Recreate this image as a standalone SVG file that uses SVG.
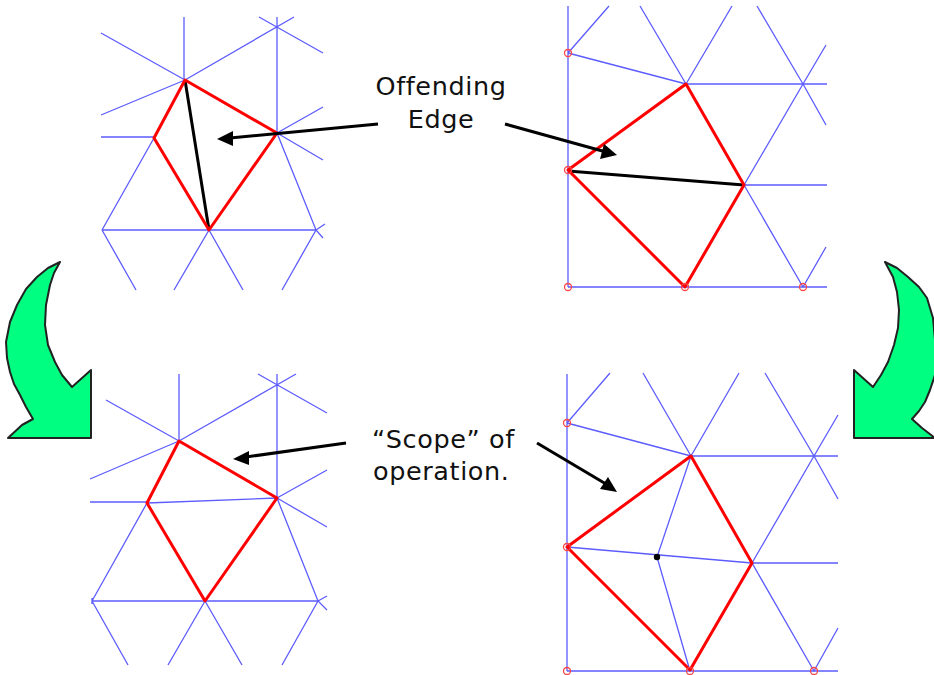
<svg xmlns="http://www.w3.org/2000/svg" width="934" height="675" viewBox="0 0 934 675">
<defs>
<style>
.m{fill:none;stroke:#5c5cff;stroke-width:1.3}
.s{fill:none;stroke:#ff0000;stroke-width:3;stroke-linejoin:round}
.k{fill:none;stroke:#000;stroke-width:3}
.c{fill:none;stroke:#ff4444;stroke-width:1.3}
.a{fill:none;stroke:#000;stroke-width:3}
.h{fill:#000;stroke:none}
.g{fill:#00ff80;stroke:#222;stroke-width:2;stroke-linejoin:round}
text{font-family:"DejaVu Sans",Verdana,sans-serif;font-size:25.5px;fill:#111;letter-spacing:.6px}
</style>
</defs>
<rect width="934" height="675" fill="#fff"/>
<g id="mesh-top-left">
<path class="m" d="M184 17V80M101 33L185 80M101 115L185 80M185 80L294 17M259 17L323 53M277 17V133M277 133L323 107M277 133L323 160M277 133L316 230L323 238M101 137H154M154 138L102 230M102 230H316M316 230L325 224M316 230L282 290M209 230L174 290M209 230L243 290M102 230L136 290"/>
<path class="k" d="M185 80L209 230"/>
<path class="s" d="M185 80L277 133L209 230L154 138Z"/>
</g>
<g id="mesh-top-right">
<path class="m" d="M568 6V287M568 53L609 6M568 53L686 84M686 84L640 6M686 84L732 6M686 84H827M757 6L803 84L826 125M803 84L744 185M803 84L826 45M744 185H827M744 185L803 287L826 247M568 287H827"/>
<path class="k" d="M568 171L744 185"/>
<path class="s" d="M686 84L744 185L685 287L568 170Z"/>
<circle class="c" cx="568" cy="53" r="3.5"/><circle class="c" cx="568" cy="170" r="3.5"/><circle class="c" cx="568" cy="287" r="3.5"/><circle class="c" cx="685" cy="287" r="3.5"/><circle class="c" cx="803" cy="287" r="3.5"/>
</g>
<g id="mesh-bottom-left">
<path class="m" d="M179 374V441M106 400L179 441M90 479L179 441M179 441L296 374M258 374L327 413M277 374V498M277 498L327 470M277 498L327 527M90 502H147M147 503L277 498M147 503L92 601M92 601H318M277 498L318 601L327 610M318 601L327 596M318 601L282 665M205 601L168 665M205 601L242 665M92 601L128 665M92 598V604"/>
<path class="s" d="M179 441L277 498L205 601L147 503Z"/>
</g>
<g id="mesh-bottom-right">
<path class="m" d="M567 374V671M567 423L610 373M567 423L691 456M691 456L643 373M691 456L739 373M691 456H838M765 373L814 456L838 499M814 456L752 563M814 456L838 415M752 563H838M752 563L814 671L838 628M567 671H838M567 547L752 563M691 456L657 557L690 671"/>
<path class="s" d="M691 456L752 563L690 670L567 547Z"/>
<circle class="c" cx="567" cy="423" r="3.5"/><circle class="c" cx="567" cy="547" r="3.5"/><circle class="c" cx="567" cy="671" r="3.5"/><circle class="c" cx="690" cy="671" r="3.5"/><circle class="c" cx="814" cy="671" r="3.5"/>
<circle cx="657" cy="557" r="3.2" fill="#000"/>
</g>
<g id="arrow-left"><path class="g" d="M60 262L48 268L37 277L26 289L17 305L10 322L6 342L7 358L10 372L14 384L20 395L26 407L33 419L22 425L8 438H91V370L72 387L62 375L55 362L48 345L45 325L46 305L50 285L54 273Z"/></g>
<g id="arrow-right"><path class="g" d="M885 262L897 268L908 277L919 287L927 298L933 318L935 340V375L930 390L925 402L919 411L912 419L922 428L935 438H854V370L873 387L881 375L888 362L894 345L898 328L899 310L897 292L893 277Z"/></g>
<g id="connectors">
<path class="a" d="M378 124L230 138"/><path class="h" d="M217 139L233 131L233 146Z"/>
<path class="a" d="M505 124L606 152"/><path class="h" d="M617 155L604 144L600 159Z"/>
<path class="a" d="M346 443L246 457"/><path class="h" d="M233 459L249 451L249 465Z"/>
<path class="a" d="M537 443L606 484"/><path class="h" d="M617 492L608 477L600 489Z"/>
</g>
<g id="label-offending"><text x="441" y="95" text-anchor="middle">Offending</text><text x="441" y="128" text-anchor="middle">Edge</text></g>
<g id="label-scope"><text x="372" y="448">“Scope” of</text><text x="373" y="480">operation.</text></g>
</svg>
